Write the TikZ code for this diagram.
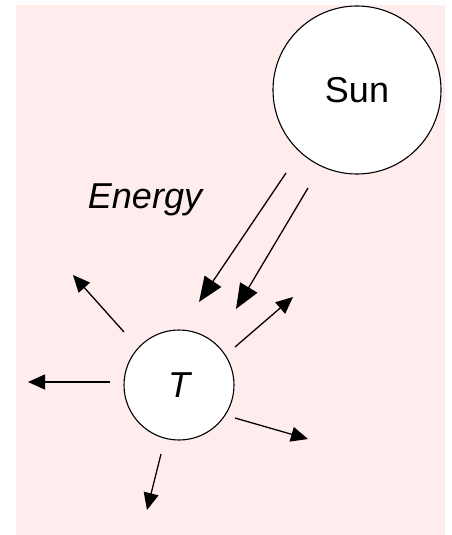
\documentclass[tikz,border=0pt]{standalone}
\usepackage{fontspec}
\setmainfont{Liberation Sans}
\usetikzlibrary{arrows.meta}

\begin{document}
\begin{tikzpicture}[x=1pt, y=-1pt,
    body/.style={draw, circle, fill=white, line width=1.1pt, inner sep=0pt},
    outray/.style={-{Triangle[length=17pt, width=15pt]}, line width=1.3pt},
    inray/.style={-{Triangle[length=25pt, width=20pt]}, line width=1.3pt}
  ]
  \useasboundingbox (0,0) rectangle (451,535);
  \fill[red!7] (16,5) rectangle (445,535);

  \node[body, minimum size=168pt, font=\fontsize{36}{42}\selectfont] (sun) at (357,90) {Sun};
  \node[body, minimum size=110pt, font=\itshape\fontsize{36}{42}\selectfont] (t) at (179,385) {T};
  \node[font=\itshape\fontsize{36}{42}\selectfont] (energy) at (145,200) {Energy};

  % incoming from the sun
  \coordinate (in1s) at (286,173);
  \coordinate (in1e) at (199,302);
  \coordinate (in2s) at (308,188);
  \coordinate (in2e) at (236,309);
  \draw[inray] (in1s) -- (in1e);
  \draw[inray] (in2s) -- (in2e);

  % radiated away
  \coordinate (nws) at (124,332);
  \coordinate (nwe) at (73,275);
  \coordinate (nes) at (235,347);
  \coordinate (nee) at (293,297);
  \coordinate (ws) at (110,382);
  \coordinate (we) at (28,382);
  \coordinate (ses) at (235,418);
  \coordinate (see) at (308,439);
  \coordinate (ss) at (161,454);
  \coordinate (se) at (147,510);
  \draw[outray] (nws) -- (nwe);
  \draw[outray] (nes) -- (nee);
  \draw[outray] (ws) -- (we);
  \draw[outray] (ses) -- (see);
  \draw[outray] (ss) -- (se);
\end{tikzpicture}
\end{document}
